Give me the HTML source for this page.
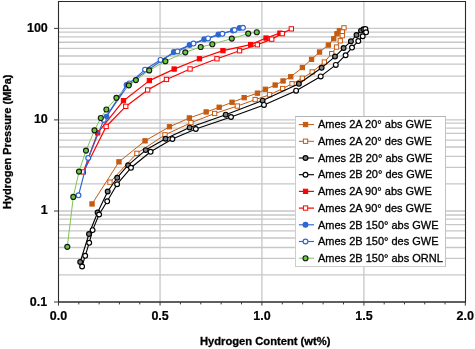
<!DOCTYPE html><html><head><meta charset="utf-8"><style>html,body{margin:0;padding:0;background:#fff;}svg{display:block;}text{font-family:"Liberation Sans",Arial,sans-serif;}</style></head><body>
<svg width="475" height="349" viewBox="0 0 475 349">
<rect width="475" height="349" fill="#fff"/>
<g stroke="#c7c7c7" stroke-width="1.3"><line x1="58.5" x2="465.5" y1="28.40" y2="28.40"/><line x1="58.5" x2="465.5" y1="32.15" y2="32.15"/><line x1="58.5" x2="465.5" y1="36.80" y2="36.80"/><line x1="58.5" x2="465.5" y1="42.26" y2="42.26"/><line x1="58.5" x2="465.5" y1="48.35" y2="48.35"/><line x1="58.5" x2="465.5" y1="56.00" y2="56.00"/><line x1="58.5" x2="465.5" y1="64.10" y2="64.10"/><line x1="58.5" x2="465.5" y1="76.20" y2="76.20"/><line x1="58.5" x2="465.5" y1="92.90" y2="92.90"/><line x1="58.5" x2="465.5" y1="119.90" y2="119.90"/><line x1="58.5" x2="465.5" y1="123.10" y2="123.10"/><line x1="58.5" x2="465.5" y1="128.05" y2="128.05"/><line x1="58.5" x2="465.5" y1="133.35" y2="133.35"/><line x1="58.5" x2="465.5" y1="140.05" y2="140.05"/><line x1="58.5" x2="465.5" y1="147.00" y2="147.00"/><line x1="58.5" x2="465.5" y1="156.46" y2="156.46"/><line x1="58.5" x2="465.5" y1="167.30" y2="167.30"/><line x1="58.5" x2="465.5" y1="183.90" y2="183.90"/><line x1="58.5" x2="465.5" y1="211.00" y2="211.00"/><line x1="58.5" x2="465.5" y1="215.00" y2="215.00"/><line x1="58.5" x2="465.5" y1="219.06" y2="219.06"/><line x1="58.5" x2="465.5" y1="224.70" y2="224.70"/><line x1="58.5" x2="465.5" y1="230.90" y2="230.90"/><line x1="58.5" x2="465.5" y1="238.00" y2="238.00"/><line x1="58.5" x2="465.5" y1="247.50" y2="247.50"/><line x1="58.5" x2="465.5" y1="258.30" y2="258.30"/><line x1="58.5" x2="465.5" y1="274.90" y2="274.90"/><line x1="160.05" x2="160.05" y1="1.5" y2="302.0"/><line x1="261.90" x2="261.90" y1="1.5" y2="302.0"/><line x1="363.90" x2="363.90" y1="1.5" y2="302.0"/></g>
<path d="M58.5,302.0 L58.5,1.5 L465.5,1.5 L465.5,302.0" fill="none" stroke="#2a2a2a" stroke-width="1.1"/>
<line x1="58.0" x2="466.0" y1="302.0" y2="302.0" stroke="#2a2a2a" stroke-width="1.4"/>
<g stroke="#3a3a3a" stroke-width="1"><line x1="58.50" x2="58.50" y1="302.0" y2="305.6"/><line x1="78.81" x2="78.81" y1="302.0" y2="304.4"/><line x1="99.12" x2="99.12" y1="302.0" y2="304.4"/><line x1="119.43" x2="119.43" y1="302.0" y2="304.4"/><line x1="139.74" x2="139.74" y1="302.0" y2="304.4"/><line x1="160.05" x2="160.05" y1="302.0" y2="305.6"/><line x1="180.42" x2="180.42" y1="302.0" y2="304.4"/><line x1="200.79" x2="200.79" y1="302.0" y2="304.4"/><line x1="221.16" x2="221.16" y1="302.0" y2="304.4"/><line x1="241.53" x2="241.53" y1="302.0" y2="304.4"/><line x1="261.90" x2="261.90" y1="302.0" y2="305.6"/><line x1="282.30" x2="282.30" y1="302.0" y2="304.4"/><line x1="302.70" x2="302.70" y1="302.0" y2="304.4"/><line x1="323.10" x2="323.10" y1="302.0" y2="304.4"/><line x1="343.50" x2="343.50" y1="302.0" y2="304.4"/><line x1="363.90" x2="363.90" y1="302.0" y2="305.6"/><line x1="384.18" x2="384.18" y1="302.0" y2="304.4"/><line x1="404.46" x2="404.46" y1="302.0" y2="304.4"/><line x1="424.74" x2="424.74" y1="302.0" y2="304.4"/><line x1="445.02" x2="445.02" y1="302.0" y2="304.4"/><line x1="465.30" x2="465.30" y1="302.0" y2="305.6"/><line x1="54.0" x2="58.5" y1="302.00" y2="302.00"/><line x1="54.0" x2="58.5" y1="211.00" y2="211.00"/><line x1="54.0" x2="58.5" y1="119.90" y2="119.90"/><line x1="54.0" x2="58.5" y1="28.40" y2="28.40"/></g>
<g font-size="12.5" font-weight="bold" fill="#000" stroke="#000" stroke-width="0.2"><text x="47.2" y="305.9" text-anchor="end">0.1</text><text x="47.6" y="214.3" text-anchor="end">1</text><text x="47.8" y="122.8" text-anchor="end">10</text><text x="47.8" y="31.8" text-anchor="end">100</text><text x="58.5" y="319.6" text-anchor="middle">0.0</text><text x="160.1" y="319.6" text-anchor="middle">0.5</text><text x="261.9" y="319.6" text-anchor="middle">1.0</text><text x="363.9" y="319.6" text-anchor="middle">1.5</text><text x="465.3" y="319.6" text-anchor="middle">2.0</text></g>
 <text x="265.2" y="344.9" text-anchor="middle" font-size="11.2" font-weight="bold" stroke="#000" stroke-width="0.3">Hydrogen Content (wt%)</text>
<text transform="translate(10.9,141.8) rotate(-90)" text-anchor="middle" font-size="11" font-weight="bold" stroke="#000" stroke-width="0.3">Hydrogen Pressure (MPa)</text>
<path d="M92.1,203.9 L119.0,161.8 L145.1,140.8 L169.5,126.8 L189.4,118.0 L206.2,112.0 L219.2,107.3 L232.1,102.3 L244.2,97.7 L257.5,93.2 L265.4,89.3 L275.1,85.1 L283.0,81.0 L290.7,76.8 L302.4,67.6 L311.5,59.4 L319.5,52.0 L328.3,45.0 L333.7,38.8 L336.9,33.8 L339.3,30.7" fill="none" stroke-linejoin="round" stroke="#c55a11" stroke-width="1.0"/><rect x="89.9" y="201.8" width="4.3" height="4.3" fill="#c55a11" stroke="#c55a11" stroke-width="1"/><rect x="116.8" y="159.7" width="4.3" height="4.3" fill="#c55a11" stroke="#c55a11" stroke-width="1"/><rect x="142.9" y="138.7" width="4.3" height="4.3" fill="#c55a11" stroke="#c55a11" stroke-width="1"/><rect x="167.3" y="124.6" width="4.3" height="4.3" fill="#c55a11" stroke="#c55a11" stroke-width="1"/><rect x="187.2" y="115.8" width="4.3" height="4.3" fill="#c55a11" stroke="#c55a11" stroke-width="1"/><rect x="204.0" y="109.8" width="4.3" height="4.3" fill="#c55a11" stroke="#c55a11" stroke-width="1"/><rect x="217.0" y="105.1" width="4.3" height="4.3" fill="#c55a11" stroke="#c55a11" stroke-width="1"/><rect x="229.9" y="100.1" width="4.3" height="4.3" fill="#c55a11" stroke="#c55a11" stroke-width="1"/><rect x="242.0" y="95.5" width="4.3" height="4.3" fill="#c55a11" stroke="#c55a11" stroke-width="1"/><rect x="255.3" y="91.0" width="4.3" height="4.3" fill="#c55a11" stroke="#c55a11" stroke-width="1"/><rect x="263.2" y="87.1" width="4.3" height="4.3" fill="#c55a11" stroke="#c55a11" stroke-width="1"/><rect x="273.0" y="82.9" width="4.3" height="4.3" fill="#c55a11" stroke="#c55a11" stroke-width="1"/><rect x="280.9" y="78.8" width="4.3" height="4.3" fill="#c55a11" stroke="#c55a11" stroke-width="1"/><rect x="288.6" y="74.6" width="4.3" height="4.3" fill="#c55a11" stroke="#c55a11" stroke-width="1"/><rect x="300.2" y="65.4" width="4.3" height="4.3" fill="#c55a11" stroke="#c55a11" stroke-width="1"/><rect x="309.4" y="57.2" width="4.3" height="4.3" fill="#c55a11" stroke="#c55a11" stroke-width="1"/><rect x="317.4" y="49.9" width="4.3" height="4.3" fill="#c55a11" stroke="#c55a11" stroke-width="1"/><rect x="326.2" y="42.9" width="4.3" height="4.3" fill="#c55a11" stroke="#c55a11" stroke-width="1"/><rect x="331.6" y="36.6" width="4.3" height="4.3" fill="#c55a11" stroke="#c55a11" stroke-width="1"/><rect x="334.8" y="31.6" width="4.3" height="4.3" fill="#c55a11" stroke="#c55a11" stroke-width="1"/><rect x="337.2" y="28.6" width="4.3" height="4.3" fill="#c55a11" stroke="#c55a11" stroke-width="1"/><path d="M343.9,27.8 L342.4,31.9 L342.2,35.6 L340.2,40.8 L336.5,47.0 L331.7,53.6 L324.4,62.0 L312.1,72.0 L302.3,78.3 L292.0,83.8 L282.6,88.6 L269.5,94.8 L255.2,99.6 L237.3,106.1 L214.7,113.5 L191.0,122.7 L165.0,134.8 L136.8,153.4 L110.0,182.2" fill="none" stroke-linejoin="round" stroke="#c55a11" stroke-width="1.0"/><rect x="341.8" y="25.7" width="4.3" height="4.3" fill="#fff" stroke="#c55a11" stroke-width="1"/><rect x="340.2" y="29.8" width="4.3" height="4.3" fill="#fff" stroke="#c55a11" stroke-width="1"/><rect x="340.1" y="33.5" width="4.3" height="4.3" fill="#fff" stroke="#c55a11" stroke-width="1"/><rect x="338.1" y="38.6" width="4.3" height="4.3" fill="#fff" stroke="#c55a11" stroke-width="1"/><rect x="334.4" y="44.9" width="4.3" height="4.3" fill="#fff" stroke="#c55a11" stroke-width="1"/><rect x="329.6" y="51.5" width="4.3" height="4.3" fill="#fff" stroke="#c55a11" stroke-width="1"/><rect x="322.2" y="59.9" width="4.3" height="4.3" fill="#fff" stroke="#c55a11" stroke-width="1"/><rect x="310.0" y="69.8" width="4.3" height="4.3" fill="#fff" stroke="#c55a11" stroke-width="1"/><rect x="300.2" y="76.1" width="4.3" height="4.3" fill="#fff" stroke="#c55a11" stroke-width="1"/><rect x="289.9" y="81.6" width="4.3" height="4.3" fill="#fff" stroke="#c55a11" stroke-width="1"/><rect x="280.5" y="86.4" width="4.3" height="4.3" fill="#fff" stroke="#c55a11" stroke-width="1"/><rect x="267.4" y="92.6" width="4.3" height="4.3" fill="#fff" stroke="#c55a11" stroke-width="1"/><rect x="253.0" y="97.4" width="4.3" height="4.3" fill="#fff" stroke="#c55a11" stroke-width="1"/><rect x="235.2" y="103.9" width="4.3" height="4.3" fill="#fff" stroke="#c55a11" stroke-width="1"/><rect x="212.5" y="111.3" width="4.3" height="4.3" fill="#fff" stroke="#c55a11" stroke-width="1"/><rect x="188.8" y="120.5" width="4.3" height="4.3" fill="#fff" stroke="#c55a11" stroke-width="1"/><rect x="162.8" y="132.7" width="4.3" height="4.3" fill="#fff" stroke="#c55a11" stroke-width="1"/><rect x="134.7" y="151.2" width="4.3" height="4.3" fill="#fff" stroke="#c55a11" stroke-width="1"/><rect x="107.8" y="180.0" width="4.3" height="4.3" fill="#fff" stroke="#c55a11" stroke-width="1"/><path d="M80.2,262.0 L89.0,234.0 L97.6,212.5 L107.7,191.5 L117.2,177.7 L128.1,165.2 L145.7,150.1 L165.5,138.7 L189.6,127.6 L225.7,114.7 L262.6,100.6 L298.9,83.8 L321.6,67.8 L335.0,56.6 L343.6,48.1 L350.9,41.3 L356.5,35.0 L361.0,30.6 L363.5,29.3" fill="none" stroke-linejoin="round" stroke="#000" stroke-width="1.1"/><circle cx="80.2" cy="262.0" r="2.4" fill="#7f7f7f" stroke="#000" stroke-width="1.15"/><circle cx="89.0" cy="234.0" r="2.4" fill="#7f7f7f" stroke="#000" stroke-width="1.15"/><circle cx="97.6" cy="212.5" r="2.4" fill="#7f7f7f" stroke="#000" stroke-width="1.15"/><circle cx="107.7" cy="191.5" r="2.4" fill="#7f7f7f" stroke="#000" stroke-width="1.15"/><circle cx="117.2" cy="177.7" r="2.4" fill="#7f7f7f" stroke="#000" stroke-width="1.15"/><circle cx="128.1" cy="165.2" r="2.4" fill="#7f7f7f" stroke="#000" stroke-width="1.15"/><circle cx="145.7" cy="150.1" r="2.4" fill="#7f7f7f" stroke="#000" stroke-width="1.15"/><circle cx="165.5" cy="138.7" r="2.4" fill="#7f7f7f" stroke="#000" stroke-width="1.15"/><circle cx="189.6" cy="127.6" r="2.4" fill="#7f7f7f" stroke="#000" stroke-width="1.15"/><circle cx="225.7" cy="114.7" r="2.4" fill="#7f7f7f" stroke="#000" stroke-width="1.15"/><circle cx="262.6" cy="100.6" r="2.4" fill="#7f7f7f" stroke="#000" stroke-width="1.15"/><circle cx="298.9" cy="83.8" r="2.4" fill="#7f7f7f" stroke="#000" stroke-width="1.15"/><circle cx="321.6" cy="67.8" r="2.4" fill="#7f7f7f" stroke="#000" stroke-width="1.15"/><circle cx="335.0" cy="56.6" r="2.4" fill="#7f7f7f" stroke="#000" stroke-width="1.15"/><circle cx="343.6" cy="48.1" r="2.4" fill="#7f7f7f" stroke="#000" stroke-width="1.15"/><circle cx="350.9" cy="41.3" r="2.4" fill="#7f7f7f" stroke="#000" stroke-width="1.15"/><circle cx="356.5" cy="35.0" r="2.4" fill="#7f7f7f" stroke="#000" stroke-width="1.15"/><circle cx="361.0" cy="30.6" r="2.4" fill="#7f7f7f" stroke="#000" stroke-width="1.15"/><circle cx="363.5" cy="29.3" r="2.4" fill="#7f7f7f" stroke="#000" stroke-width="1.15"/><path d="M365.4,29.0 L366.1,32.3 L362.7,36.3 L358.3,41.1 L352.0,47.6 L345.6,55.2 L335.8,64.9 L320.7,76.4 L296.1,90.7 L264.0,104.9 L231.0,117.0 L195.8,129.0 L172.4,139.0 L150.6,151.8 L131.0,167.8 L117.1,184.2 L107.2,201.3 L99.1,214.5 L92.6,230.1 L89.2,242.8 L85.2,255.8 L82.1,266.5" fill="none" stroke-linejoin="round" stroke="#000" stroke-width="1.1"/><circle cx="365.4" cy="29.0" r="2.4" fill="#fff" stroke="#000" stroke-width="1.15"/><circle cx="366.1" cy="32.3" r="2.4" fill="#fff" stroke="#000" stroke-width="1.15"/><circle cx="362.7" cy="36.3" r="2.4" fill="#fff" stroke="#000" stroke-width="1.15"/><circle cx="358.3" cy="41.1" r="2.4" fill="#fff" stroke="#000" stroke-width="1.15"/><circle cx="352.0" cy="47.6" r="2.4" fill="#fff" stroke="#000" stroke-width="1.15"/><circle cx="345.6" cy="55.2" r="2.4" fill="#fff" stroke="#000" stroke-width="1.15"/><circle cx="335.8" cy="64.9" r="2.4" fill="#fff" stroke="#000" stroke-width="1.15"/><circle cx="320.7" cy="76.4" r="2.4" fill="#fff" stroke="#000" stroke-width="1.15"/><circle cx="296.1" cy="90.7" r="2.4" fill="#fff" stroke="#000" stroke-width="1.15"/><circle cx="264.0" cy="104.9" r="2.4" fill="#fff" stroke="#000" stroke-width="1.15"/><circle cx="231.0" cy="117.0" r="2.4" fill="#fff" stroke="#000" stroke-width="1.15"/><circle cx="195.8" cy="129.0" r="2.4" fill="#fff" stroke="#000" stroke-width="1.15"/><circle cx="172.4" cy="139.0" r="2.4" fill="#fff" stroke="#000" stroke-width="1.15"/><circle cx="150.6" cy="151.8" r="2.4" fill="#fff" stroke="#000" stroke-width="1.15"/><circle cx="131.0" cy="167.8" r="2.4" fill="#fff" stroke="#000" stroke-width="1.15"/><circle cx="117.1" cy="184.2" r="2.4" fill="#fff" stroke="#000" stroke-width="1.15"/><circle cx="107.2" cy="201.3" r="2.4" fill="#fff" stroke="#000" stroke-width="1.15"/><circle cx="99.1" cy="214.5" r="2.4" fill="#fff" stroke="#000" stroke-width="1.15"/><circle cx="92.6" cy="230.1" r="2.4" fill="#fff" stroke="#000" stroke-width="1.15"/><circle cx="89.2" cy="242.8" r="2.4" fill="#fff" stroke="#000" stroke-width="1.15"/><circle cx="85.2" cy="255.8" r="2.4" fill="#fff" stroke="#000" stroke-width="1.15"/><circle cx="82.1" cy="266.5" r="2.4" fill="#fff" stroke="#000" stroke-width="1.15"/><path d="M83.4,172.0 L97.7,132.8 L123.5,100.7 L149.4,80.6 L174.2,69.1 L199.5,58.7 L222.9,50.6 L250.7,44.6 L266.0,38.0 L279.9,33.1" fill="none" stroke-linejoin="round" stroke="#ff0000" stroke-width="1.2"/><rect x="95.5" y="130.7" width="4.3" height="4.3" fill="#ff0000" stroke="#ff0000" stroke-width="1"/><rect x="121.3" y="98.5" width="4.3" height="4.3" fill="#ff0000" stroke="#ff0000" stroke-width="1"/><rect x="147.2" y="78.4" width="4.3" height="4.3" fill="#ff0000" stroke="#ff0000" stroke-width="1"/><rect x="172.0" y="66.9" width="4.3" height="4.3" fill="#ff0000" stroke="#ff0000" stroke-width="1"/><rect x="197.3" y="56.6" width="4.3" height="4.3" fill="#ff0000" stroke="#ff0000" stroke-width="1"/><rect x="220.8" y="48.5" width="4.3" height="4.3" fill="#ff0000" stroke="#ff0000" stroke-width="1"/><rect x="248.5" y="42.5" width="4.3" height="4.3" fill="#ff0000" stroke="#ff0000" stroke-width="1"/><rect x="263.9" y="35.9" width="4.3" height="4.3" fill="#ff0000" stroke="#ff0000" stroke-width="1"/><rect x="277.8" y="31.0" width="4.3" height="4.3" fill="#ff0000" stroke="#ff0000" stroke-width="1"/><path d="M291.4,28.8 L282.2,33.6 L271.7,39.1 L257.4,44.8 L239.6,50.8 L217.0,58.8 L190.1,69.0 L166.5,79.5 L147.7,89.9 L125.8,106.4 L106.2,126.5 L83.4,172.0" fill="none" stroke-linejoin="round" stroke="#ff0000" stroke-width="1.2"/><rect x="289.2" y="26.7" width="4.3" height="4.3" fill="#fff" stroke="#ff0000" stroke-width="1"/><rect x="280.1" y="31.5" width="4.3" height="4.3" fill="#fff" stroke="#ff0000" stroke-width="1"/><rect x="269.6" y="37.0" width="4.3" height="4.3" fill="#fff" stroke="#ff0000" stroke-width="1"/><rect x="255.2" y="42.6" width="4.3" height="4.3" fill="#fff" stroke="#ff0000" stroke-width="1"/><rect x="237.4" y="48.6" width="4.3" height="4.3" fill="#fff" stroke="#ff0000" stroke-width="1"/><rect x="214.8" y="56.6" width="4.3" height="4.3" fill="#fff" stroke="#ff0000" stroke-width="1"/><rect x="187.9" y="66.8" width="4.3" height="4.3" fill="#fff" stroke="#ff0000" stroke-width="1"/><rect x="164.3" y="77.3" width="4.3" height="4.3" fill="#fff" stroke="#ff0000" stroke-width="1"/><rect x="145.5" y="87.8" width="4.3" height="4.3" fill="#fff" stroke="#ff0000" stroke-width="1"/><rect x="123.6" y="104.2" width="4.3" height="4.3" fill="#fff" stroke="#ff0000" stroke-width="1"/><rect x="104.0" y="124.3" width="4.3" height="4.3" fill="#fff" stroke="#ff0000" stroke-width="1"/><rect x="81.2" y="169.8" width="4.3" height="4.3" fill="#fff" stroke="#ff0000" stroke-width="1"/><path d="M106.5,116.6 L126.6,84.9 L173.9,52.0 L189.6,45.0 L204.2,39.3 L218.4,34.5 L232.9,30.5 L239.6,27.9" fill="none" stroke-linejoin="round" stroke="#2f66d0" stroke-width="1.15"/><circle cx="106.5" cy="116.6" r="2.4" fill="#2f66d0" stroke="#2f66d0" stroke-width="1.15"/><circle cx="126.6" cy="84.9" r="2.4" fill="#2f66d0" stroke="#2f66d0" stroke-width="1.15"/><circle cx="173.9" cy="52.0" r="2.4" fill="#2f66d0" stroke="#2f66d0" stroke-width="1.15"/><circle cx="189.6" cy="45.0" r="2.4" fill="#2f66d0" stroke="#2f66d0" stroke-width="1.15"/><circle cx="204.2" cy="39.3" r="2.4" fill="#2f66d0" stroke="#2f66d0" stroke-width="1.15"/><circle cx="218.4" cy="34.5" r="2.4" fill="#2f66d0" stroke="#2f66d0" stroke-width="1.15"/><circle cx="232.9" cy="30.5" r="2.4" fill="#2f66d0" stroke="#2f66d0" stroke-width="1.15"/><circle cx="239.6" cy="27.9" r="2.4" fill="#2f66d0" stroke="#2f66d0" stroke-width="1.15"/><path d="M243.0,27.8 L234.6,30.0 L222.4,33.8 L208.1,38.4 L193.5,43.6 L177.5,51.4 L160.5,59.9 L145.0,69.6 L129.3,83.4 L103.8,119.9 L88.2,158.0 L78.5,195.3" fill="none" stroke-linejoin="round" stroke="#2f66d0" stroke-width="1.15"/><circle cx="243.0" cy="27.8" r="2.4" fill="#fff" stroke="#2f66d0" stroke-width="1.15"/><circle cx="234.6" cy="30.0" r="2.4" fill="#fff" stroke="#2f66d0" stroke-width="1.15"/><circle cx="222.4" cy="33.8" r="2.4" fill="#fff" stroke="#2f66d0" stroke-width="1.15"/><circle cx="208.1" cy="38.4" r="2.4" fill="#fff" stroke="#2f66d0" stroke-width="1.15"/><circle cx="193.5" cy="43.6" r="2.4" fill="#fff" stroke="#2f66d0" stroke-width="1.15"/><circle cx="177.5" cy="51.4" r="2.4" fill="#fff" stroke="#2f66d0" stroke-width="1.15"/><circle cx="160.5" cy="59.9" r="2.4" fill="#fff" stroke="#2f66d0" stroke-width="1.15"/><circle cx="145.0" cy="69.6" r="2.4" fill="#fff" stroke="#2f66d0" stroke-width="1.15"/><circle cx="129.3" cy="83.4" r="2.4" fill="#fff" stroke="#2f66d0" stroke-width="1.15"/><circle cx="103.8" cy="119.9" r="2.4" fill="#fff" stroke="#2f66d0" stroke-width="1.15"/><circle cx="88.2" cy="158.0" r="2.4" fill="#fff" stroke="#2f66d0" stroke-width="1.15"/><circle cx="78.5" cy="195.3" r="2.4" fill="#fff" stroke="#2f66d0" stroke-width="1.15"/><path d="M67.3,246.8 L73.3,196.9 L79.0,171.6 L86.0,150.6 L94.5,130.3 L100.8,118.0 L106.4,109.5 L116.4,97.8 L128.8,85.3 L135.9,80.1 L149.2,70.4 L165.4,61.2 L185.3,52.3 L200.7,47.0 L212.3,44.2 L231.8,38.6 L248.2,33.6 L256.8,32.2" fill="none" stroke-linejoin="round" stroke="#7cc653" stroke-width="1.0"/><circle cx="67.3" cy="246.8" r="2.5" fill="#66cc3a" stroke="#1a1a1a" stroke-width="1.15"/><circle cx="73.3" cy="196.9" r="2.5" fill="#66cc3a" stroke="#1a1a1a" stroke-width="1.15"/><circle cx="79.0" cy="171.6" r="2.5" fill="#66cc3a" stroke="#1a1a1a" stroke-width="1.15"/><circle cx="86.0" cy="150.6" r="2.5" fill="#66cc3a" stroke="#1a1a1a" stroke-width="1.15"/><circle cx="94.5" cy="130.3" r="2.5" fill="#66cc3a" stroke="#1a1a1a" stroke-width="1.15"/><circle cx="100.8" cy="118.0" r="2.5" fill="#66cc3a" stroke="#1a1a1a" stroke-width="1.15"/><circle cx="106.4" cy="109.5" r="2.5" fill="#66cc3a" stroke="#1a1a1a" stroke-width="1.15"/><circle cx="116.4" cy="97.8" r="2.5" fill="#66cc3a" stroke="#1a1a1a" stroke-width="1.15"/><circle cx="128.8" cy="85.3" r="2.5" fill="#66cc3a" stroke="#1a1a1a" stroke-width="1.15"/><circle cx="135.9" cy="80.1" r="2.5" fill="#66cc3a" stroke="#1a1a1a" stroke-width="1.15"/><circle cx="149.2" cy="70.4" r="2.5" fill="#66cc3a" stroke="#1a1a1a" stroke-width="1.15"/><circle cx="165.4" cy="61.2" r="2.5" fill="#66cc3a" stroke="#1a1a1a" stroke-width="1.15"/><circle cx="185.3" cy="52.3" r="2.5" fill="#66cc3a" stroke="#1a1a1a" stroke-width="1.15"/><circle cx="200.7" cy="47.0" r="2.5" fill="#66cc3a" stroke="#1a1a1a" stroke-width="1.15"/><circle cx="212.3" cy="44.2" r="2.5" fill="#66cc3a" stroke="#1a1a1a" stroke-width="1.15"/><circle cx="231.8" cy="38.6" r="2.5" fill="#66cc3a" stroke="#1a1a1a" stroke-width="1.15"/><circle cx="248.2" cy="33.6" r="2.5" fill="#66cc3a" stroke="#1a1a1a" stroke-width="1.15"/><circle cx="256.8" cy="32.2" r="2.5" fill="#66cc3a" stroke="#1a1a1a" stroke-width="1.15"/>
<rect x="295.5" y="116.5" width="150" height="150" fill="#fff" stroke="#cdcdcd" stroke-width="1"/><line x1="295" x2="446" y1="116.5" y2="116.5" stroke="#b4b4b4" stroke-width="1"/><line x1="445.5" x2="445.5" y1="116" y2="267" stroke="#c2c2c2" stroke-width="1"/><line x1="298.9" x2="314" y1="124.60" y2="124.60" stroke="#c55a11" stroke-width="1.0"/><rect x="303.4" y="122.4" width="4.3" height="4.3" fill="#c55a11" stroke="#c55a11" stroke-width="1"/><text x="318" y="128.30" font-size="11" stroke="#000" stroke-width="0.3">Ames 2A 20° abs GWE</text><line x1="298.9" x2="314" y1="141.30" y2="141.30" stroke="#c55a11" stroke-width="1.0"/><rect x="303.4" y="139.1" width="4.3" height="4.3" fill="#fff" stroke="#c55a11" stroke-width="1"/><text x="318" y="145.00" font-size="11" stroke="#000" stroke-width="0.3">Ames 2A 20° des GWE</text><line x1="298.9" x2="314" y1="158.00" y2="158.00" stroke="#000" stroke-width="1.1"/><circle cx="305.5" cy="158.0" r="2.4" fill="#7f7f7f" stroke="#000" stroke-width="1.15"/><text x="318" y="161.70" font-size="11" stroke="#000" stroke-width="0.3">Ames 2B 20° abs GWE</text><line x1="298.9" x2="314" y1="174.70" y2="174.70" stroke="#000" stroke-width="1.1"/><circle cx="305.5" cy="174.7" r="2.4" fill="#fff" stroke="#000" stroke-width="1.15"/><text x="318" y="178.40" font-size="11" stroke="#000" stroke-width="0.3">Ames 2B 20° des GWE</text><line x1="298.9" x2="314" y1="191.40" y2="191.40" stroke="#ff0000" stroke-width="1.2"/><rect x="303.4" y="189.2" width="4.3" height="4.3" fill="#ff0000" stroke="#ff0000" stroke-width="1"/><text x="318" y="195.10" font-size="11" stroke="#000" stroke-width="0.3">Ames 2A 90° abs GWE</text><line x1="298.9" x2="314" y1="208.10" y2="208.10" stroke="#ff0000" stroke-width="1.2"/><rect x="303.4" y="205.9" width="4.3" height="4.3" fill="#fff" stroke="#ff0000" stroke-width="1"/><text x="318" y="211.80" font-size="11" stroke="#000" stroke-width="0.3">Ames 2A 90° des GWE</text><line x1="298.9" x2="314" y1="224.80" y2="224.80" stroke="#2f66d0" stroke-width="1.15"/><circle cx="305.5" cy="224.8" r="2.4" fill="#2f66d0" stroke="#2f66d0" stroke-width="1.15"/><text x="318" y="228.50" font-size="11" stroke="#000" stroke-width="0.3">Ames 2B 150° abs GWE</text><line x1="298.9" x2="314" y1="241.50" y2="241.50" stroke="#2f66d0" stroke-width="1.15"/><circle cx="305.5" cy="241.5" r="2.4" fill="#fff" stroke="#2f66d0" stroke-width="1.15"/><text x="318" y="245.20" font-size="11" stroke="#000" stroke-width="0.3">Ames 2B 150° des GWE</text><line x1="298.9" x2="314" y1="258.20" y2="258.20" stroke="#7cc653" stroke-width="1.0"/><circle cx="305.5" cy="258.2" r="2.5" fill="#66cc3a" stroke="#1a1a1a" stroke-width="1.15"/><text x="318" y="261.90" font-size="11" stroke="#000" stroke-width="0.3">Ames 2B 150° abs ORNL</text>
</svg></body></html>
